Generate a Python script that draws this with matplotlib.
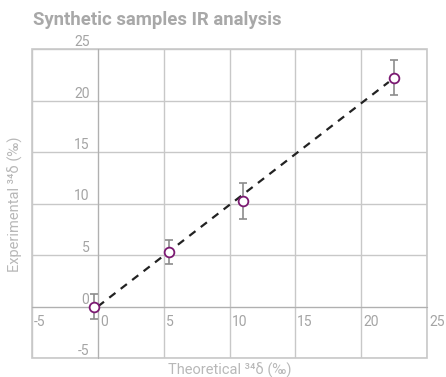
import numpy as np
import matplotlib
matplotlib.use("Agg")
import matplotlib.pyplot as plt
import matplotlib.transforms as mtransforms
from matplotlib.patches import Rectangle

plt.rcParams['font.family'] = ['Roboto', 'DejaVu Sans']

# data
theoretical = [-0.3, 5.4, 11.0, 22.5]
experimental = [0.0, 5.3, 10.2, 22.2]
err = [1.2, 1.2, 1.75, 1.7]
fit_x = [0.0, 22.1]
fit_y = [0.0, 21.8]
ticks = [-5, 0, 5, 10, 15, 20, 25]
tick_labels = ['-5', '0', '5', '10', '15', '20', '25']

grid_col = '#c8c8c8'
text_col = '#a8a8a8'

fig = plt.figure(figsize=(4.46, 3.77), dpi=100)
ax = fig.add_axes([32/446, 1-358/377, (427-32)/446, (358-49)/377])

ax.set_xlim(-5, 25)
ax.set_ylim(-5, 25)
ax.set_xticks(ticks)
ax.set_xticklabels(tick_labels)
ax.set_yticks(ticks)
ax.set_yticklabels(tick_labels)
ax.grid(True, color=grid_col, linewidth=1)
ax.set_axisbelow(True)

for s in ['top', 'right']:
    ax.spines[s].set_visible(False)
ax.spines['left'].set_position(('data', 0))
ax.spines['bottom'].set_position(('data', 0))
ax.spines['left'].set_color('#b0b0b0')
ax.spines['bottom'].set_color('#b0b0b0')
ax.add_patch(Rectangle((0, 0), 1, 1, transform=ax.transAxes, fill=False,
                       ec=grid_col, lw=1.2, clip_on=False))

ax.tick_params(length=0, labelsize=10, labelcolor='#a4a4a4')
ax.tick_params(axis='x', pad=6)
ax.tick_params(axis='y', pad=6)
for lab in ax.get_xticklabels():
    lab.set_ha('left')
    lab.set_transform(lab.get_transform() + mtransforms.ScaledTranslation(2/100, 0, fig.dpi_scale_trans))
for lab in ax.get_yticklabels():
    lab.set_va('bottom')

ax.plot(fit_x, fit_y, color='#222222', linestyle=(0, (3.5, 3)), linewidth=1.6, zorder=3)
ax.errorbar(theoretical, experimental, yerr=err, fmt='none', ecolor='#8c8c8c',
            elinewidth=1.2, capsize=3, capthick=1.2, zorder=4)
ax.plot(theoretical, experimental, 'o', ms=7, mfc='white', mec='#7b1a72',
        mew=1.3, zorder=5, clip_on=False)

fig.text(33/446, 1-20/377, 'Synthetic samples IR analysis', fontsize=13.3,
         fontweight='bold', color=text_col, ha='left', va='center')
fig.text(229.5/446, 1-370/377, 'Theoretical ³⁴δ (‰)', fontsize=10.5,
         color='#b8b8b8', ha='center', va='center')
fig.text(15/446, 1-204/377, 'Experimental ³⁴δ (‰)', fontsize=10.5,
         color='#b8b8b8', ha='center', va='center', rotation=90)

fig.savefig('out.png', dpi=100)
